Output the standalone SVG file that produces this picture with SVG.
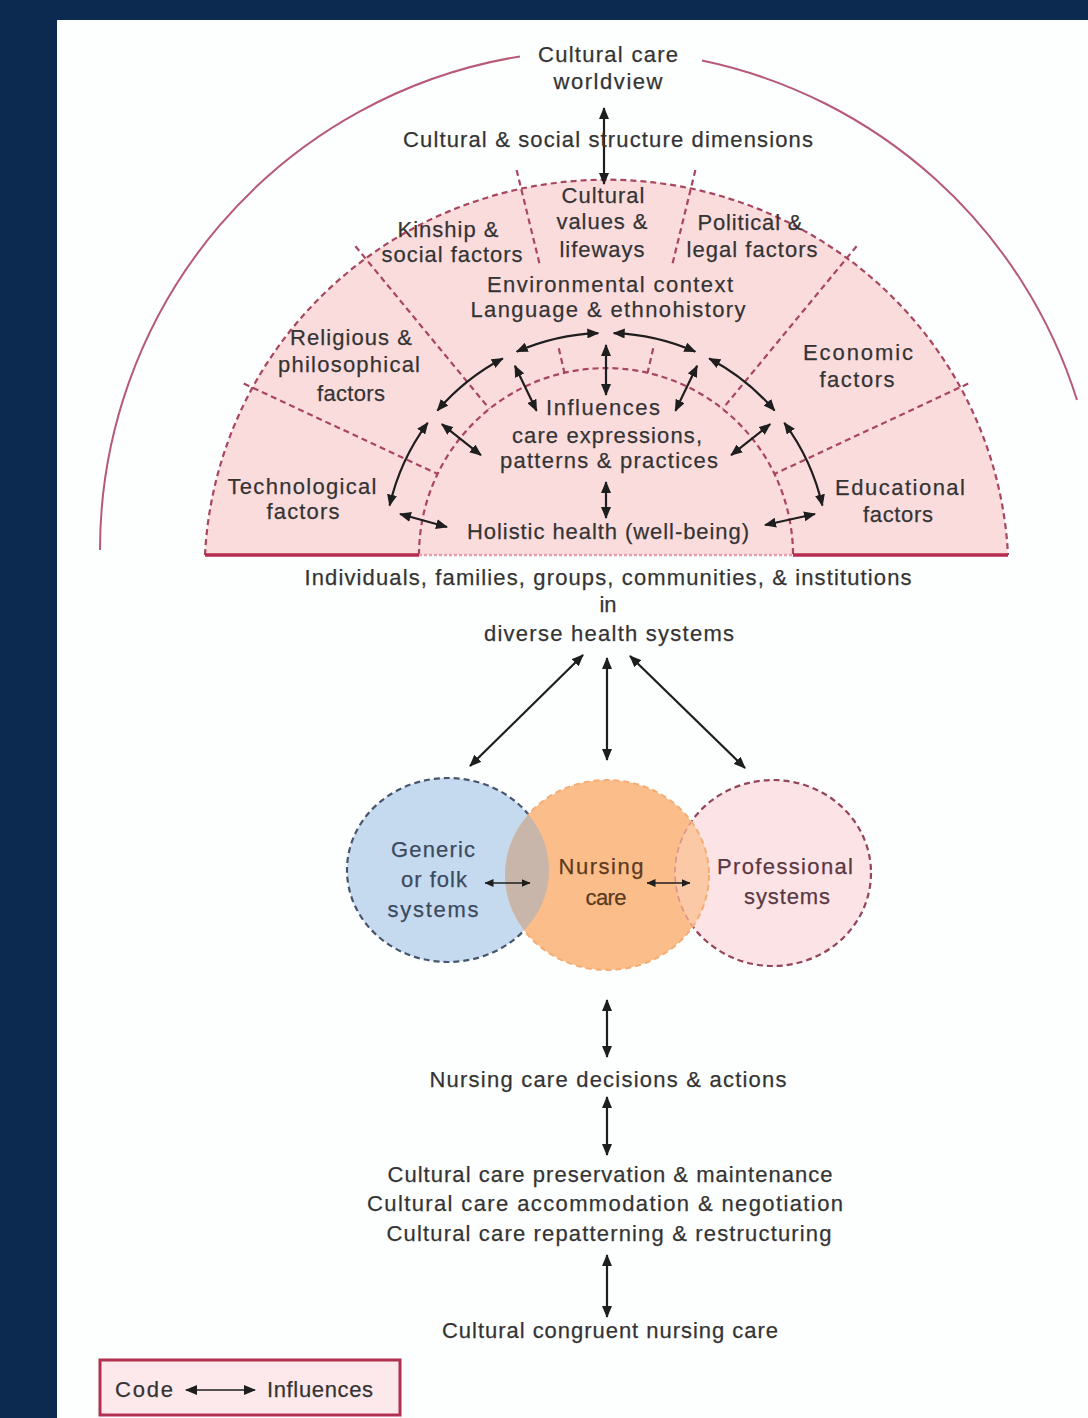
<svg xmlns="http://www.w3.org/2000/svg" width="1088" height="1418" viewBox="0 0 1088 1418">
<defs>
<style>
text{font-family:"Liberation Sans",Arial,sans-serif;font-size:22px;fill:#333;stroke:#3a3a3a;stroke-width:0.25px;text-anchor:middle}
.dash{fill:none;stroke:#a8465f;stroke-width:2.2;stroke-dasharray:6 4}
.arr{fill:none;stroke:#1e1e1e;stroke-width:2.2;marker-start:url(#ah);marker-end:url(#ah)}
.sarr{fill:none;stroke:#1e1e1e;stroke-width:1.6;marker-start:url(#sh);marker-end:url(#sh)}
</style>
<marker id="ah" viewBox="0 0 12 10" refX="11" refY="5" markerWidth="12" markerHeight="10" markerUnits="userSpaceOnUse" orient="auto-start-reverse"><path d="M0,0 L12,5 L0,10 z" fill="#1e1e1e"/></marker>
<marker id="sh" viewBox="0 0 9 8" refX="8.5" refY="4" markerWidth="9" markerHeight="8" markerUnits="userSpaceOnUse" orient="auto-start-reverse"><path d="M0,0 L9,4 L0,8 z" fill="#1e1e1e"/></marker>
<clipPath id="cpBlue"><ellipse cx="448" cy="870" rx="101" ry="92"/></clipPath>
<clipPath id="cpPink"><ellipse cx="773" cy="873" rx="98" ry="93"/></clipPath>
<clipPath id="cpOrange"><ellipse cx="607" cy="875" rx="102" ry="95"/></clipPath>
<mask id="mNoBlue"><rect width="1088" height="1418" fill="#fff"/><ellipse cx="448" cy="870" rx="100" ry="91" fill="#000"/></mask>
</defs>

<rect width="1088" height="1418" fill="#0c2a50"/>
<rect x="57" y="20" width="1031" height="1398" fill="#fdfefe"/>

<g id="worldview-arc" fill="none" stroke="#b65a76" stroke-width="2">
<path d="M100,550 A500,500 0 0 1 520,56.4"/>
<path d="M702,60.5 A500,500 0 0 1 1077,400"/>
</g>

<g id="sunrise">
<path d="M205,555 A402,395 0 0 1 1008,555 Z" fill="#fbdcdd"/>
<path class="dash" d="M205,555 A402,395 0 0 1 1008,555"/>
<path class="dash" d="M419,555 A187,187 0 0 1 793,555"/>
<path class="dash" d="M968.2,383.6 L774.5,473.9 M856.6,246.2 L722.6,408.8 M695.4,169.9 L672.3,264.5 M653.2,348.3 L647.6,372.7 M516.6,169.9 L539.7,264.5 M558.8,348.3 L564.4,372.7 M355.4,246.2 L489.4,408.8 M243.8,383.6 L437.5,473.9"/>
<path d="M205,555 H419 M793,555 H1008" stroke="#b72a52" stroke-width="3.5" fill="none"/>
<path d="M419,555 H793" stroke="#e6a0ad" stroke-width="2.5" stroke-dasharray="3 2" fill="none"/>
</g>

<g id="circles">
<ellipse cx="448" cy="870" rx="101" ry="92" fill="#c6daef"/>
<ellipse cx="773" cy="873" rx="98" ry="93" fill="#fce3e6"/>
<ellipse cx="448" cy="870" rx="101" ry="92" fill="none" stroke="#46566d" stroke-width="2.2" stroke-dasharray="6 4"/>
<ellipse cx="773" cy="873" rx="98" ry="93" fill="none" stroke="#94455b" stroke-width="2.2" stroke-dasharray="6 4"/>
<ellipse cx="607" cy="875" rx="102" ry="95" fill="#fbbe8a"/>
<ellipse cx="607" cy="875" rx="102" ry="95" fill="#c8b6aa" clip-path="url(#cpBlue)"/>
<ellipse cx="607" cy="875" rx="102" ry="95" fill="#fcc9a6" clip-path="url(#cpPink)"/>
<ellipse cx="773" cy="873" rx="98" ry="93" fill="none" stroke="#d9928c" stroke-width="1.6" stroke-dasharray="6 4" clip-path="url(#cpOrange)"/>
<ellipse cx="607" cy="875" rx="102" ry="95" fill="none" stroke="#f4ad74" stroke-width="2" stroke-dasharray="6 4" mask="url(#mNoBlue)"/>
</g>

<g id="connectors">
<path class="arr" d="M604,108 V184"/>
<path class="arr" d="M822.4,505.6 A222,222 0 0 0 784.3,422.8"/>
<path class="arr" d="M774.6,410.6 A222,222 0 0 0 709.2,358.5"/>
<path class="arr" d="M695.3,351.7 A222,222 0 0 0 613.7,333.1"/>
<path class="arr" d="M598.3,333.1 A222,222 0 0 0 516.7,351.7"/>
<path class="arr" d="M502.8,358.5 A222,222 0 0 0 437.4,410.6"/>
<path class="arr" d="M427.7,422.8 A222,222 0 0 0 389.6,505.6"/>
<path class="arr" d="M770.2,424.1 L731.1,455.2"/>
<path class="arr" d="M697.1,365.8 L675.4,410.8"/>
<path class="arr" d="M606,345 V395"/>
<path class="arr" d="M514.9,365.8 L536.6,410.8"/>
<path class="arr" d="M441.8,424.1 L480.9,455.2"/>
<path class="arr" d="M606,482 V518"/>
<path class="arr" d="M400,514 L447,527"/>
<path class="arr" d="M815,514 L765,525"/>
<path class="arr" d="M583,655 L470,766"/>
<path class="arr" d="M607,658 V760"/>
<path class="arr" d="M630,656 L745,768"/>
<path class="sarr" d="M485,883 H530"/>
<path class="sarr" d="M647,883 H690"/>
<path class="arr" d="M607,1000 V1057"/>
<path class="arr" d="M607,1097 V1155"/>
<path class="arr" d="M607,1255 V1317"/>
</g>

<g id="label-worldview">
<text x="608" y="62" textLength="140">Cultural care</text>
<text x="608" y="89" textLength="109">worldview</text>
</g>
<g id="label-dimensions"><text x="608" y="147" textLength="410">Cultural &amp; social structure dimensions</text></g>
<g id="label-cultural-values">
<text x="603" y="203" textLength="83">Cultural</text>
<text x="602" y="229" textLength="91">values &amp;</text>
<text x="602" y="257" textLength="85">lifeways</text>
</g>
<g id="label-kinship">
<text x="448" y="237" textLength="101">Kinship &amp;</text>
<text x="452" y="262" textLength="141">social factors</text>
</g>
<g id="label-political">
<text x="750" y="230" textLength="105">Political &amp;</text>
<text x="752" y="257" textLength="131">legal factors</text>
</g>
<g id="label-environment">
<text x="610" y="292" textLength="246">Environmental context</text>
<text x="608" y="317" textLength="275">Language &amp; ethnohistory</text>
</g>
<g id="label-religious">
<text x="351" y="345" textLength="122">Religious &amp;</text>
<text x="349" y="372" textLength="142">philosophical</text>
<text x="351" y="401" textLength="68">factors</text>
</g>
<g id="label-economic">
<text x="858" y="360" textLength="110">Economic</text>
<text x="857" y="387" textLength="75">factors</text>
</g>
<g id="label-technological">
<text x="302" y="494" textLength="149">Technological</text>
<text x="303" y="519" textLength="73">factors</text>
</g>
<g id="label-educational">
<text x="900" y="495" textLength="130">Educational</text>
<text x="898" y="522" textLength="70">factors</text>
</g>
<g id="label-influences">
<text x="603" y="415" textLength="114">Influences</text>
<text x="607" y="443" textLength="190">care expressions,</text>
<text x="609" y="468" textLength="218">patterns &amp; practices</text>
</g>
<g id="label-holistic"><text x="608" y="539" textLength="282">Holistic health (well-being)</text></g>
<g id="label-individuals">
<text x="608" y="585" textLength="607">Individuals, families, groups, communities, &amp; institutions</text>
<text x="608" y="612">in</text>
<text x="609" y="641" textLength="250">diverse health systems</text>
</g>
<g id="node-generic">
<text x="433" y="857" textLength="84" style="fill:#3c4a60;stroke:#3c4a60">Generic</text>
<text x="434" y="887" textLength="66" style="fill:#3c4a60;stroke:#3c4a60">or folk</text>
<text x="433" y="917" textLength="91" style="fill:#3c4a60;stroke:#3c4a60">systems</text>
</g>
<g id="node-nursing">
<text x="601" y="874" textLength="85" style="fill:#5b3a22;stroke:#5b3a22">Nursing</text>
<text x="606" y="905" textLength="41" style="fill:#5b3a22;stroke:#5b3a22">care</text>
</g>
<g id="node-professional">
<text x="785" y="874" textLength="136" style="fill:#5a3842;stroke:#5a3842">Professional</text>
<text x="787" y="904" textLength="86" style="fill:#5a3842;stroke:#5a3842">systems</text>
</g>
<g id="label-decisions"><text x="608" y="1087" textLength="357">Nursing care decisions &amp; actions</text></g>
<g id="label-modes">
<text x="610" y="1182" textLength="445">Cultural care preservation &amp; maintenance</text>
<text x="605" y="1211" textLength="476">Cultural care accommodation &amp; negotiation</text>
<text x="609" y="1241" textLength="445">Cultural care repatterning &amp; restructuring</text>
</g>
<g id="label-congruent"><text x="610" y="1338" textLength="336">Cultural congruent nursing care</text></g>
<g id="legend">
<rect x="100" y="1360" width="300" height="55" fill="#fde9ec" stroke="#b0304f" stroke-width="3"/>
<text x="144" y="1397" textLength="58">Code</text>
<path class="arr" d="M186,1390 H255" style="stroke-width:1.6"/>
<text x="320" y="1397" textLength="106">Influences</text>
</g>
</svg>
